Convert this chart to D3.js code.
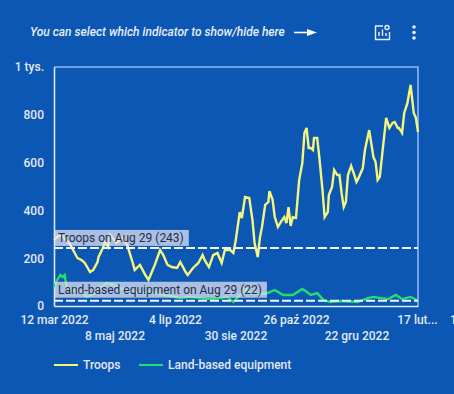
<!DOCTYPE html>
<html>
<head>
<meta charset="utf-8">
<script src="https://cdn.jsdelivr.net/npm/d3@7"></script>
<style>
html, body { margin: 0; padding: 0; background: #0c57b3; overflow: hidden; }
text { font-family: Roboto, sans-serif; }
</style>
</head>
<body>
<div id="chart"></div>
<script>
// days since 12 mar 2022
var troopDays = [0,4,8,11,15,19,22,26,29,34,37,41,42,46,48,51,53,59,64,69,74,76,81,86,89,91,95,100,103,107,111,116,119,124,126,131,136,140,142,146,150,154,158,161,166,169,171,174,175,177,180,184,187,189,192,194,196,199,202,203,206,208,211,215,217,219,221,223,225,228,231,234,236,238,240,242,244,245,248,250,253,255,258,259,262,264,267,269,271,273,275,277,280,283,285,287,291,293,297,301,303,305,307,309,313,316,319,321,324,325,328,330,333,336,339,341,343]
var troops = [276,293,293,276,259,226,201,192,180,142,151,184,205,243,268,247,297,264,285,255,184,151,172,130,109,130,172,234,213,172,163,159,184,142,130,159,180,213,192,163,213,222,180,234,234,222,268,360,393,368,456,452,360,264,205,285,331,423,435,481,444,372,331,360,372,347,414,335,372,368,527,598,724,745,661,661,653,703,703,623,485,372,393,464,498,569,548,548,473,414,435,548,586,548,519,536,577,653,736,623,603,527,540,623,787,745,766,770,745,745,724,808,849,925,808,787,728]
var equipDays = [0,3,6,8,10,12,17,25,31,39,43,50,56,62,72,81,91,100,109,119,128,138,147,157,163,169,175,182,185,194,201,208,216,225,234,237,242,248,254,260,270,286,296,301,308,315,322,328,336,342]
var equipment = [79,109,130,121,130,79,67,59,38,54,75,96,88,75,63,54,59,50,42,33,38,33,29,33,38,17,46,71,54,50,54,67,46,46,71,63,46,54,25,17,21,17,33,38,33,29,46,29,38,25]

var yTicks = [0, 200, 400, 600, 800, 1000]
var yTickLabels = ["0", "200", "400", "600", "800", "1 tys."]
var rowOneDays = [0, 114, 228, 342]
var rowOneLabels = ["12 mar 2022", "4 lip 2022", "26 paź 2022", "17 lut..."]
var rowTwoDays = [57, 171, 285]
var rowTwoLabels = ["8 maj 2022", "30 sie 2022", "22 gru 2022"]
var refLines = [
    { name: "Troops on Aug 29 (243)", value: 243 },
    { name: "Land-based equipment on Aug 29 (22)", value: 22 }
]
var legendNames = ["Troops", "Land-based equipment"]

var startDate = new Date(2022, 2, 12)
function toDate(d) { return d3.timeDay.offset(startDate, d) }

var width = 454, height = 394
var margin = { top: 67, right: 36, bottom: 88, left: 54 }
var colors = { troops: "#f4f77c", equipment: "#22df6c", frame: "#8fb6f2", label: "#e4e9f4", bg: "#0c57b3" }

var svg = d3.select("#chart").append("svg")
    .attr("width", width)
    .attr("height", height)
    .style("display", "block")

var xScale = d3.scaleTime()
    .domain([startDate, toDate(343)])
    .range([margin.left, width - margin.right])

var yScale = d3.scaleLinear()
    .domain([0, 1000])
    .range([height - margin.bottom, margin.top])

// Header
svg.append("text")
    .attr("x", 30).attr("y", 36)
    .attr("fill", "#e8eef9")
    .style("font-size", "12px").style("font-style", "italic").style("font-weight", 500)
    .text("You can select which indicator to show/hide here")

svg.append("path").attr("d", "M294 32.5H308").attr("stroke", "#fff").attr("stroke-width", 1.6)
svg.append("path").attr("d", "M307 29L317 32.5L307 36Z").attr("fill", "#fff")

// chart settings icon
var icon = svg.append("g").attr("fill", "none").attr("stroke", "#e8eef9").attr("stroke-width", 1.4)
icon.append("path").attr("d", "M383 26H375.5V39.5H389.5V32")
icon.append("path").attr("d", "M379 36V32M382.5 36V29.5M386 36V33")
icon.append("circle").attr("cx", 387).attr("cy", 27.5).attr("r", 2)

svg.append("g").attr("fill", "#e8eef9")
    .selectAll("circle").data([27, 32.5, 38]).enter().append("circle")
    .attr("cx", 414).attr("cy", function(d) { return d }).attr("r", 1.8)

// Frame
svg.append("path")
    .attr("d", "M" + margin.left + " " + margin.top + "H" + (width - margin.right) + "V" + (height - margin.bottom))
    .attr("fill", "none").attr("stroke", colors.frame).attr("stroke-width", 1.6)

// Axes
var yAxis = svg.append("g")
    .attr("transform", "translate(" + margin.left + ",0)")
    .call(d3.axisLeft(yScale).tickValues(yTicks).tickSize(0).tickPadding(10)
        .tickFormat(function(d, i) { return yTickLabels[i] }))
yAxis.select(".domain").attr("stroke", "#dfe8f7").attr("stroke-width", 1.6)

var xAxisOne = svg.append("g")
    .attr("transform", "translate(0," + (height - margin.bottom) + ")")
    .call(d3.axisBottom(xScale).tickValues(rowOneDays.map(toDate)).tickSize(0).tickPadding(9)
        .tickFormat(function(d, i) { return rowOneLabels[i] }))
xAxisOne.select(".domain").attr("stroke", "#dfe8f7").attr("stroke-width", 1.6)

var xAxisTwo = svg.append("g")
    .attr("transform", "translate(0," + (height - margin.bottom) + ")")
    .call(d3.axisBottom(xScale).tickValues(rowTwoDays.map(toDate)).tickSize(0).tickPadding(25)
        .tickFormat(function(d, i) { return rowTwoLabels[i] }))
xAxisTwo.select(".domain").remove()

svg.selectAll(".tick text")
    .attr("fill", colors.label)
    .style("font-size", "12px").style("font-weight", 500)

// next label, cut by the window
svg.append("text").attr("x", 450).attr("y", 324)
    .attr("fill", colors.label).style("font-size", "12px").style("font-weight", 500).text("1")

// Lines
var line = d3.line()
    .x(function(d) { return xScale(toDate(d.day)) })
    .y(function(d) { return yScale(d.value) })

function pairs(days, values) {
    return days.map(function(d, i) { return { day: d, value: values[i] } })
}

svg.append("path").datum(pairs(equipDays, equipment))
    .attr("d", line).attr("fill", "none")
    .attr("stroke", colors.equipment).attr("stroke-width", 2.4)

svg.append("path").datum(pairs(troopDays, troops))
    .attr("d", line).attr("fill", "none")
    .attr("stroke", colors.troops).attr("stroke-width", 2.4)

// Reference lines and their labels
var labelGaps = [2, 3]
refLines.forEach(function(r, i) {
    var y = yScale(r.value)
    svg.append("line")
        .attr("x1", margin.left).attr("x2", width - margin.right)
        .attr("y1", y).attr("y2", y)
        .attr("stroke", "#f3f6fc").attr("stroke-width", 2).attr("stroke-dasharray", "9 3")

    var label = svg.append("g")
    var bottom = y - labelGaps[i]
    var txt = label.append("text")
        .attr("x", margin.left + 4).attr("y", bottom - 3.5)
        .attr("fill", "#1f2e4c")
        .style("font-size", "12px")
        .text(r.name)
    var w = txt.node().getComputedTextLength()
    label.insert("rect", "text")
        .attr("x", margin.left + 1).attr("y", bottom - 16)
        .attr("width", w + 8).attr("height", 16)
        .attr("fill", "#e0e2f2").attr("opacity", 0.75)
})

// Legend
var legendX = [54, 139]
var legendColors = [colors.troops, colors.equipment]
legendNames.forEach(function(name, i) {
    svg.append("line")
        .attr("x1", legendX[i]).attr("x2", legendX[i] + 24)
        .attr("y1", 365).attr("y2", 365)
        .attr("stroke", legendColors[i]).attr("stroke-width", 2)
    svg.append("text")
        .attr("x", legendX[i] + 29).attr("y", 369)
        .attr("fill", colors.label)
        .style("font-size", "12px").style("font-weight", 500)
        .text(name)
})
</script>
</body>
</html>
